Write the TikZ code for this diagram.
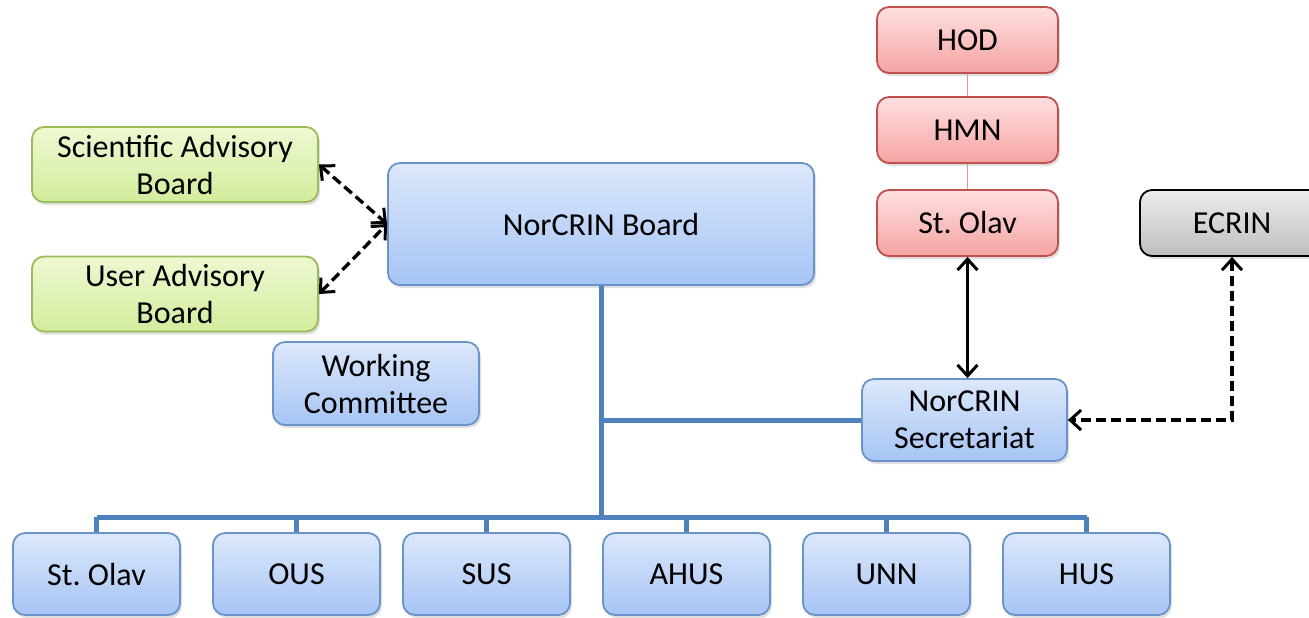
\documentclass[tikz,border=0pt]{standalone}
\usepackage{fontspec}
\setmainfont{Carlito}
\usepackage{xcolor}
\usetikzlibrary{arrows.meta,shadows}
\definecolor{BoxBlueTop}{HTML}{DCE8FB}
\definecolor{BoxBlueBot}{HTML}{A6C4F4}
\definecolor{BoxBlueLine}{HTML}{6A93C9}
\definecolor{BoxGreenTop}{HTML}{EEF8D2}
\definecolor{BoxGreenBot}{HTML}{D3EC9C}
\definecolor{BoxGreenLine}{HTML}{9BBB59}
\definecolor{BoxRedTop}{HTML}{FFE0E0}
\definecolor{BoxRedBot}{HTML}{F5A3A3}
\definecolor{BoxRedLine}{HTML}{C0504D}
\definecolor{ChainRed}{HTML}{E49494}
\definecolor{BoxGrayTop}{HTML}{EDEDED}
\definecolor{BoxGrayBot}{HTML}{BEBEBE}
\definecolor{BusBlue}{HTML}{4F81BD}
\frenchspacing
\tikzset{
	box/.style = {
		rounded corners = 6pt,
		line width      = 0.9pt,
		align           = center,
		inner sep       = 0pt,
		font            = \fontsize{16}{18.5}\selectfont,
		drop shadow     = {opacity = 0.25, shadow xshift = 1pt, shadow yshift = -1.5pt},
	},
	bluebox/.style  = {box, draw = BoxBlueLine,  top color = BoxBlueTop,  bottom color = BoxBlueBot},
	greenbox/.style = {box, draw = BoxGreenLine, top color = BoxGreenTop, bottom color = BoxGreenBot},
	redbox/.style   = {box, draw = BoxRedLine,   top color = BoxRedTop,   bottom color = BoxRedBot},
	graybox/.style  = {box, draw = black,        top color = BoxGrayTop,  bottom color = BoxGrayBot},
	bus/.style      = {draw = BusBlue, line width = 2.5pt},
	tip/.style      = {{Straight Barb[length = 5.5pt, width = 10pt, line width = 1.5pt]}-{Straight Barb[length = 5.5pt, width = 10pt, line width = 1.5pt]}},
	dasharrow/.style = {tip, line width = 1.7pt, dash pattern = on 5pt off 2.5pt},
	solidarrow/.style = {tip, line width = 1.7pt},
}
\begin{document}
\begin{tikzpicture}[x = 0.5pt, y = -0.5pt]
	\useasboundingbox (0, 0) rectangle (1309, 617);

	% advisory side
	\node (sab) at (175, 164.5) [greenbox, minimum width = 143pt, minimum height = 37.5pt] {Scientific Advisory\\Board};
	\node (uab) at (175, 294)   [greenbox, minimum width = 143pt, minimum height = 37.5pt] {User Advisory\\Board};
	\node (board) at (601, 224) [bluebox, minimum width = 213pt, minimum height = 61pt] {NorCRIN Board};
	\node (wc) at (376, 383.5)  [bluebox, minimum width = 103pt, minimum height = 41.5pt] {Working\\Committee};

	% hospital chain
	\node (hod)   at (967.5, 40)  [redbox, minimum width = 90.5pt, minimum height = 33pt] {HOD};
	\node (hmn)   at (967.5, 130) [redbox, minimum width = 90.5pt, minimum height = 33pt] {HMN};
	\node (olavr) at (967.5, 223) [redbox, minimum width = 90.5pt, minimum height = 33pt] {St. Olav};
	\node (ecrin) at (1232, 223)  [graybox, minimum width = 92pt, minimum height = 33pt] {ECRIN};
	\node (sec)   at (964.5, 420) [bluebox, minimum width = 102.5pt, minimum height = 41pt] {NorCRIN\\Secretariat};

	% members
	\node (olav) at (96.5, 574)   [bluebox, minimum width = 83.5pt, minimum height = 41pt] {St. Olav};
	\node (ous)  at (296.5, 574)  [bluebox, minimum width = 83.5pt, minimum height = 41pt] {OUS};
	\node (sus)  at (486.5, 574)  [bluebox, minimum width = 83.5pt, minimum height = 41pt] {SUS};
	\node (ahus) at (686.5, 574)  [bluebox, minimum width = 83.5pt, minimum height = 41pt] {AHUS};
	\node (unn)  at (886.5, 574)  [bluebox, minimum width = 83.5pt, minimum height = 41pt] {UNN};
	\node (hus)  at (1086.5, 574) [bluebox, minimum width = 83.5pt, minimum height = 41pt] {HUS};

	% blue tree
	\coordinate (trunk) at (601, 517);
	\draw[bus] (board.south) -- (trunk);
	\draw[bus] (board.south |- sec.west) -- (sec.west);
	\draw[bus] (olav.north |- trunk) -- (hus.north |- trunk);
	\draw[bus] (olav.north) -- (olav.north |- trunk);
	\draw[bus] (ous.north)  -- (ous.north  |- trunk);
	\draw[bus] (sus.north)  -- (sus.north  |- trunk);
	\draw[bus] (ahus.north) -- (ahus.north |- trunk);
	\draw[bus] (unn.north)  -- (unn.north  |- trunk);
	\draw[bus] (hus.north)  -- (hus.north  |- trunk);

	% red chain
	\draw[ChainRed, line width = 0.9pt] (hod) -- (hmn) -- (olavr);

	% arrows
	\draw[dasharrow] (sab.east) -- (board.west);
	\draw[dasharrow] (uab.east) -- (board.west);
	\draw[solidarrow] (olavr.south) -- (olavr.south |- sec.north);
	\draw[dasharrow] (ecrin.south) |- (sec.east);
\end{tikzpicture}
\end{document}
